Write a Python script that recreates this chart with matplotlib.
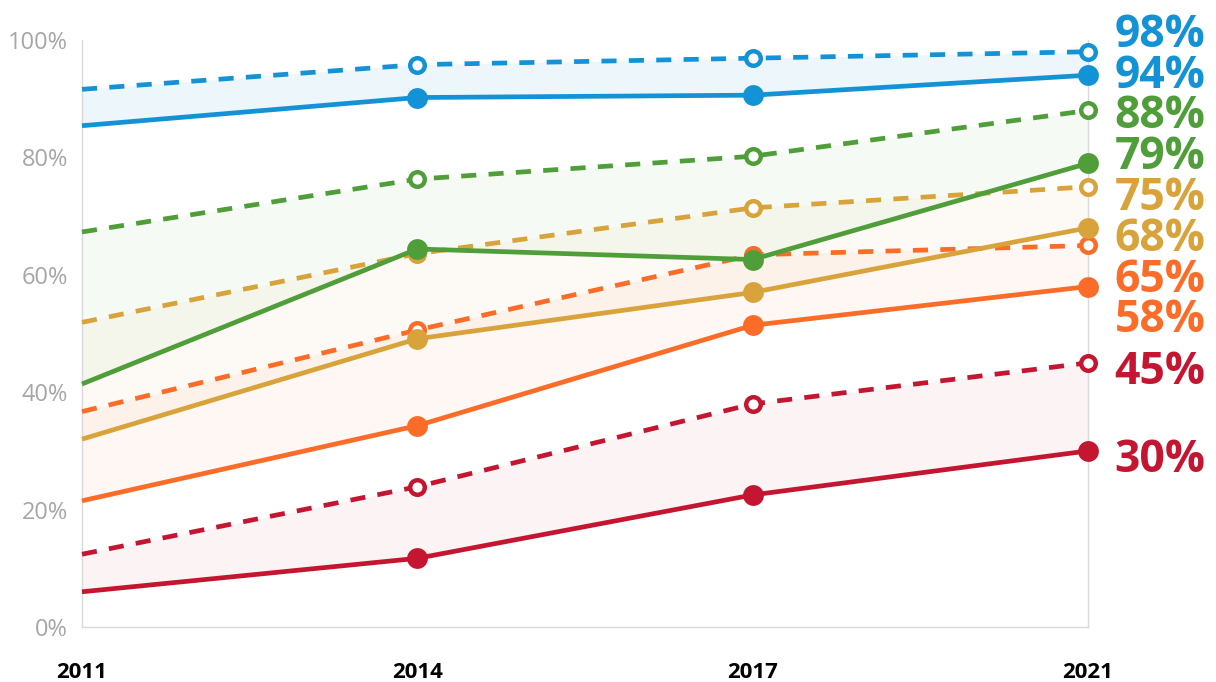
import matplotlib.pyplot as plt
import numpy as np

# survey years and the ten series (solid = reported, dashed = target)
years = ["2011", "2014", "2017", "2021"]
y_ticks = [0, 20, 40, 60, 80, 100]

blue_dashed = [91.6, 95.8, 96.9, 98]
blue_solid = [85.4, 90.2, 90.6, 94]
green_dashed = [67.3, 76.3, 80.2, 88]
green_solid = [41.4, 64.4, 62.6, 79]
yellow_dashed = [51.9, 63.6, 71.4, 75]
yellow_solid = [32.0, 49.1, 57.0, 68]
orange_dashed = [36.7, 50.6, 63.4, 65]
orange_solid = [21.5, 34.3, 51.4, 58]
red_dashed = [12.4, 23.9, 38.0, 45]
red_solid = [6.0, 11.7, 22.5, 30]

BLUE = "#1393d6"
GREEN = "#4f9e3a"
YELLOW = "#d9a33b"
ORANGE = "#fa6c28"
RED = "#c41630"

# colour, solid series, dashed series, band opacity
groups = [
    (RED, red_solid, red_dashed, 0.05),
    (ORANGE, orange_solid, orange_dashed, 0.05),
    (YELLOW, yellow_solid, yellow_dashed, 0.05),
    (GREEN, green_solid, green_dashed, 0.05),
    (BLUE, blue_solid, blue_dashed, 0.08),
]

plt.rcParams['font.family'] = ['Open Sans', 'DejaVu Sans']

fig = plt.figure(figsize=(12.16, 6.82), dpi=100)
ax = fig.add_axes([82 / 1216, 55 / 682, 1006 / 1216, 587 / 682])

x = np.arange(len(years))
lw = 3.4

for color, solid, dashed, a in groups:
    ax.fill_between(x, solid, dashed, color=color, alpha=a, lw=0, zorder=1)

# dashed lines first so the solid ones sit on top where they cross
for color, solid, dashed, a in groups:
    ax.plot(x, dashed, color=color, lw=lw, ls=(0, (3.2, 2.6)),
            marker='o', markevery=[1, 2, 3], ms=10.5, mew=3.2,
            mfc='white', mec=color, zorder=3, clip_on=False)
for color, solid, dashed, a in groups:
    ax.plot(x, solid, color=color, lw=lw, solid_capstyle='butt',
            marker='o', markevery=[1, 2, 3], ms=15, mew=0,
            mfc=color, zorder=4, clip_on=False)


def spread(values, gap):
    # push end labels apart so they don't overlap, keeping each cluster centred
    clusters = []
    for v in sorted(values, reverse=True):
        clusters.append([v])
        while len(clusters) > 1:
            prev, cur = clusters[-2], clusters[-1]
            prev_bottom = np.mean(prev) - gap * (len(prev) - 1) / 2
            cur_top = np.mean(cur) + gap * (len(cur) - 1) / 2
            if prev_bottom - cur_top < gap:
                clusters[-2:] = [prev + cur]
            else:
                break
    pos = {}
    for c in clusters:
        m = np.mean(c)
        for i, v in enumerate(c):
            pos[v] = m + gap * ((len(c) - 1) / 2 - i)
    return pos


ends = []
for color, solid, dashed, a in groups:
    ends.append((solid[-1], color))
    ends.append((dashed[-1], color))
label_pos = spread([v for v, _ in ends], 6.95)

for v, color in ends:
    ax.annotate(f"{v:.0f}%", xy=(x[-1], label_pos[v]), xytext=(19, -3),
                textcoords='offset points', ha='left', va='center_baseline',
                fontsize=32, fontweight='bold', color=color,
                annotation_clip=False)

ax.set_xlim(0, 3)
ax.set_ylim(0, 100)
ax.set_xticks(x)
ax.set_xticklabels(years, fontsize=16, fontweight='bold', color='black')
ax.set_yticks(y_ticks)
ax.set_yticklabels([f"{t}%" for t in y_ticks], fontsize=17, color='#a6a6a6')
ax.tick_params(axis='x', length=0, pad=25)
ax.tick_params(axis='y', length=0, pad=10)

for side in ['left', 'right', 'bottom']:
    ax.spines[side].set_color('#d9d9d9')
    ax.spines[side].set_linewidth(1)
ax.spines['top'].set_visible(False)

fig.savefig("out.png", dpi=100)
